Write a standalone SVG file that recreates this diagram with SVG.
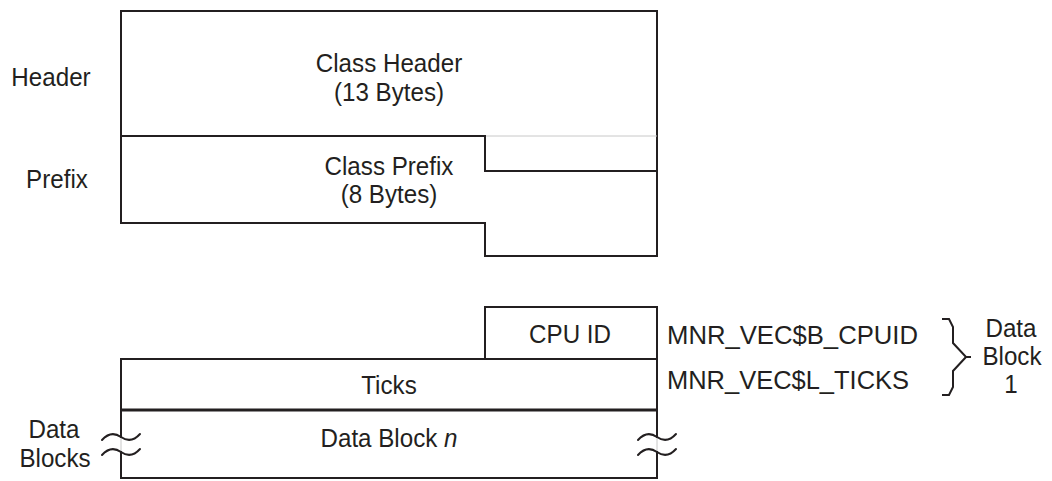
<svg xmlns="http://www.w3.org/2000/svg" width="1052" height="481" viewBox="0 0 1052 481">
<style>
  text { font-family: "Liberation Sans", Arial, sans-serif; font-size: 26px; fill: #231f20; }
  .c { text-anchor: middle; }
  .ln { fill: none; stroke: #231f20; stroke-width: 2; stroke-linejoin: miter; }
  .thick { fill: none; stroke: #231f20; stroke-width: 3; }
  .faint { fill: none; stroke: #c8c8c8; stroke-width: 1; }
  .wave { fill: none; stroke: #231f20; stroke-width: 2; stroke-linecap: round; }
</style>
<rect width="1052" height="481" fill="#ffffff"/>

<g id="header-label"><text class="c" transform="translate(51,86) scale(0.93,1)">Header</text></g>
<g id="prefix-label"><text class="c" transform="translate(57,188) scale(0.93,1)">Prefix</text></g>

<g id="class-header">
  <path class="ln" d="M121,136 V11 H657 V171"/>
  <path class="faint" d="M485,136 H657"/>
  <text class="c" transform="translate(389,72) scale(0.93,1)">Class Header</text>
  <text class="c" transform="translate(389,101) scale(0.93,1)">(13 Bytes)</text>
</g>

<g id="class-prefix">
  <path class="ln" d="M121,136 H485 V171 H657 V256 H485 V223 H121 Z"/>
  <text class="c" transform="translate(389,175) scale(0.93,1)">Class Prefix</text>
  <text class="c" transform="translate(389,203) scale(0.93,1)">(8 Bytes)</text>
</g>

<g id="cpu-id">
  <rect class="ln" x="485" y="307" width="172" height="52"/>
  <text class="c" transform="translate(570,343) scale(0.93,1)">CPU ID</text>
</g>

<g id="ticks">
  <path class="ln" d="M121,410 V359 H657 V410"/>
  <path class="thick" d="M121,410 H657"/>
  <text class="c" transform="translate(389,394) scale(0.93,1)">Ticks</text>
</g>

<g id="data-block-n">
  <path class="ln" d="M121,410 V438 M121,451 V478 H657 V451 M657,438 V410"/>
  <path class="faint" d="M121,438 V451 M657,438 V451"/>
  <path class="wave" d="M102,440 Q111,430 121,437 T140,434"/>
  <path class="wave" d="M102,455 Q111,445 121,452 T140,449"/>
  <path class="wave" d="M638,440 Q647,430 657,437 T676,434"/>
  <path class="wave" d="M638,455 Q647,445 657,452 T676,449"/>
  <text class="c" transform="translate(389,447) scale(0.93,1)">Data Block <tspan font-style="italic">n</tspan></text>
</g>

<g id="data-blocks-label">
  <text class="c" transform="translate(54,438) scale(0.93,1)">Data</text>
  <text class="c" transform="translate(55,467) scale(0.93,1)">Blocks</text>
</g>

<g id="field-names">
  <text x="667" y="344" textLength="251" lengthAdjust="spacingAndGlyphs">MNR_VEC$B_CPUID</text>
  <text x="667" y="389" textLength="242" lengthAdjust="spacingAndGlyphs">MNR_VEC$L_TICKS</text>
</g>

<g id="data-block-1-label">
  <text class="c" transform="translate(1011,337) scale(0.93,1)">Data</text>
  <text class="c" transform="translate(1012,365) scale(0.93,1)">Block</text>
  <text class="c" transform="translate(1011,393) scale(0.93,1)">1</text>
</g>

<g id="connectors">
  <path class="ln" d="M942,319 L949,319 L953,327 V343 L966,357 H971 M966,357 L953,371 V387 L949,395 H942"/>
</g>
</svg>
